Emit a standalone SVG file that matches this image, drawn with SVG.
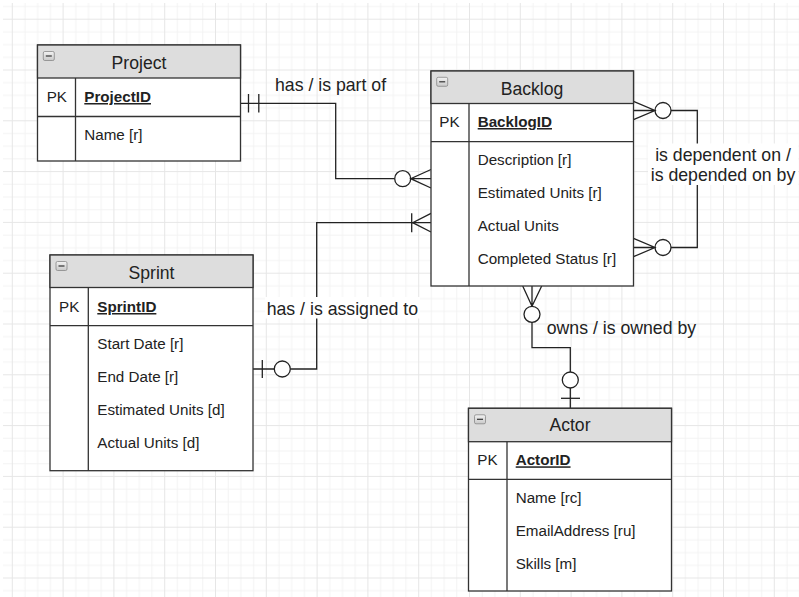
<svg xmlns="http://www.w3.org/2000/svg" width="799" height="597" viewBox="0 0 799 597">
<style>
.box{fill:#ffffff;stroke:#333333;stroke-width:1.3}
.hdr{fill:#dddddd;stroke:#333333;stroke-width:1.3}
.ln{stroke:#333333;stroke-width:1.3;fill:none}
.title{font-family:"Liberation Sans",Arial,sans-serif;font-size:17.6px;fill:#222;text-anchor:middle}
.txt{font-family:"Liberation Sans",Arial,sans-serif;font-size:15.2px;fill:#222}
.pk{font-family:"Liberation Sans",Arial,sans-serif;font-size:15.2px;fill:#222;font-weight:bold;text-decoration:underline}
.lbl{font-family:"Liberation Sans",Arial,sans-serif;font-size:17.7px;fill:#222}
.con{stroke:#222;stroke-width:1.3;fill:none}
.circ{stroke:#222;stroke-width:1.3;fill:#ffffff}
.icon{fill:url(#ig);stroke:#888;stroke-width:0.8}
</style>
<defs>
<linearGradient id="ig" x1="0" y1="0" x2="0" y2="1"><stop offset="0" stop-color="#f2f2f2"/><stop offset="1" stop-color="#c8c8c8"/></linearGradient>
<pattern id="grid" patternUnits="userSpaceOnUse" x="11.8" y="18.7" width="50.8" height="50.8">
<path d="M13.2,0V50.8M25.9,0V50.8M38.6,0V50.8M0,13.2H50.8M0,25.9H50.8M0,38.6H50.8" stroke="#f3f3f3" stroke-width="1" fill="none"/>
<path d="M0.5,0V50.8M0,0.5H50.8" stroke="#e6e6e6" stroke-width="1" fill="none"/>
</pattern>
</defs>
<rect x="0" y="0" width="799" height="597" fill="#ffffff"/>
<rect x="3" y="3" width="796" height="594" fill="url(#grid)"/>

<g id="connectors">
<!-- Project - Backlog -->
<path class="con" d="M241,103.3H335.7V178.7H394.7"/>
<path class="con" d="M248.5,94V112.6M258.8,94V112.6"/>
<circle class="circ" cx="402.7" cy="178.7" r="8"/>
<path class="con" d="M431,169.5L410.7,178.7L431,188M410.7,178.7H431"/>
<!-- Backlog self -->
<path class="con" d="M671,110.5H697.3V247.5H671"/>
<circle class="circ" cx="663" cy="110.5" r="8"/>
<path class="con" d="M633.5,101.3L655,110.5L633.5,119.7M633.5,110.5H655"/>
<circle class="circ" cx="663" cy="247.5" r="8"/>
<path class="con" d="M633.5,238.3L655,247.5L633.5,256.7M633.5,247.5H655"/>
<!-- Sprint - Backlog -->
<path class="con" d="M253,369H274.3M290.3,369H316.7V222.7H431"/>
<circle class="circ" cx="282.3" cy="369" r="8"/>
<path class="con" d="M262.3,360V378"/>
<path class="con" d="M431,213.3L412.7,222.7L431,232M411.7,213.3V232.3"/>
<!-- Backlog - Actor -->
<path class="con" d="M522.7,286L532,306.3L541.7,286M532,286V306.3"/>
<circle class="circ" cx="532" cy="314.3" r="8"/>
<path class="con" d="M532,322.3V347.7H570.3V372M570.3,388V408.3"/>
<circle class="circ" cx="570.3" cy="380" r="8"/>
<path class="con" d="M561,398.3H580"/>
<!-- labels -->
<text class="lbl" x="275" y="90.5">has / is part of</text>
<rect x="648" y="143.5" width="150" height="41.5" fill="#ffffff"/>
<text class="lbl" x="723" y="161" text-anchor="middle">is dependent on /</text>
<text class="lbl" x="723" y="181" text-anchor="middle">is depended on by</text>
<rect x="265" y="297" width="155" height="21.5" fill="#ffffff"/>
<text class="lbl" x="266.7" y="315">has / is assigned to</text>
<text class="lbl" x="546.7" y="333.5">owns / is owned by</text>
</g>

<g id="project">
<rect class="box" x="37.5" y="45" width="203" height="116"/>
<rect class="hdr" x="37.5" y="45" width="203" height="33"/>
<rect class="icon" x="43.3" y="51.5" width="11" height="9" rx="1.5"/>
<path d="M45.8,56H51.8" stroke="#333" stroke-width="1.2"/>
<path class="ln" d="M37.5,116.5H240.5M75.5,78V161"/>
<text class="title" x="139" y="68.9">Project</text>
<text class="txt" x="46.7" y="102">PK</text>
<text class="pk" x="84.3" y="102">ProjectID</text>
<text class="txt" x="84.3" y="140.3">Name [r]</text>
</g>

<g id="backlog">
<rect class="box" x="431" y="71" width="202.5" height="215"/>
<rect class="hdr" x="431" y="71" width="202.5" height="32.5"/>
<rect class="icon" x="436.7" y="77.3" width="11" height="9" rx="1.5"/>
<path d="M439.2,81.8H445.2" stroke="#333" stroke-width="1.2"/>
<path class="ln" d="M431,141.7H633.5M469,103.5V286"/>
<text class="title" x="532" y="94.5">Backlog</text>
<text class="txt" x="439.3" y="127">PK</text>
<text class="pk" x="477.7" y="127">BacklogID</text>
<text class="txt" x="477.7" y="165.3">Description [r]</text>
<text class="txt" x="477.7" y="198">Estimated Units [r]</text>
<text class="txt" x="477.7" y="231">Actual Units</text>
<text class="txt" x="477.7" y="263.8">Completed Status [r]</text>
</g>

<g id="sprint">
<rect class="box" x="50" y="255" width="203" height="215.7"/>
<rect class="hdr" x="50" y="255" width="203" height="32.5"/>
<rect class="icon" x="56" y="261.5" width="11" height="9" rx="1.5"/>
<path d="M58.5,266H64.5" stroke="#333" stroke-width="1.2"/>
<path class="ln" d="M50,325.7H253M88.3,287.5V470.7"/>
<text class="title" x="151.5" y="278.9">Sprint</text>
<text class="txt" x="59" y="312">PK</text>
<text class="pk" x="97.3" y="312">SprintID</text>
<text class="txt" x="97.3" y="349.3">Start Date [r]</text>
<text class="txt" x="97.3" y="382">End Date [r]</text>
<text class="txt" x="97.3" y="415.3">Estimated Units [d]</text>
<text class="txt" x="97.3" y="448">Actual Units [d]</text>
</g>

<g id="actor">
<rect class="box" x="468.5" y="408.3" width="203" height="182.7"/>
<rect class="hdr" x="468.5" y="408.3" width="203" height="33.4"/>
<rect class="icon" x="474.5" y="414.8" width="11" height="9" rx="1.5"/>
<path d="M477,419.3H483" stroke="#333" stroke-width="1.2"/>
<path class="ln" d="M468.5,479.3H671.5M507,441.7V591"/>
<text class="title" x="570" y="431.2">Actor</text>
<text class="txt" x="477.3" y="465.3">PK</text>
<text class="pk" x="515.7" y="465.3">ActorID</text>
<text class="txt" x="515.7" y="503">Name [rc]</text>
<text class="txt" x="515.7" y="536.3">EmailAddress [ru]</text>
<text class="txt" x="515.7" y="568.6">Skills [m]</text>
</g>
</svg>
